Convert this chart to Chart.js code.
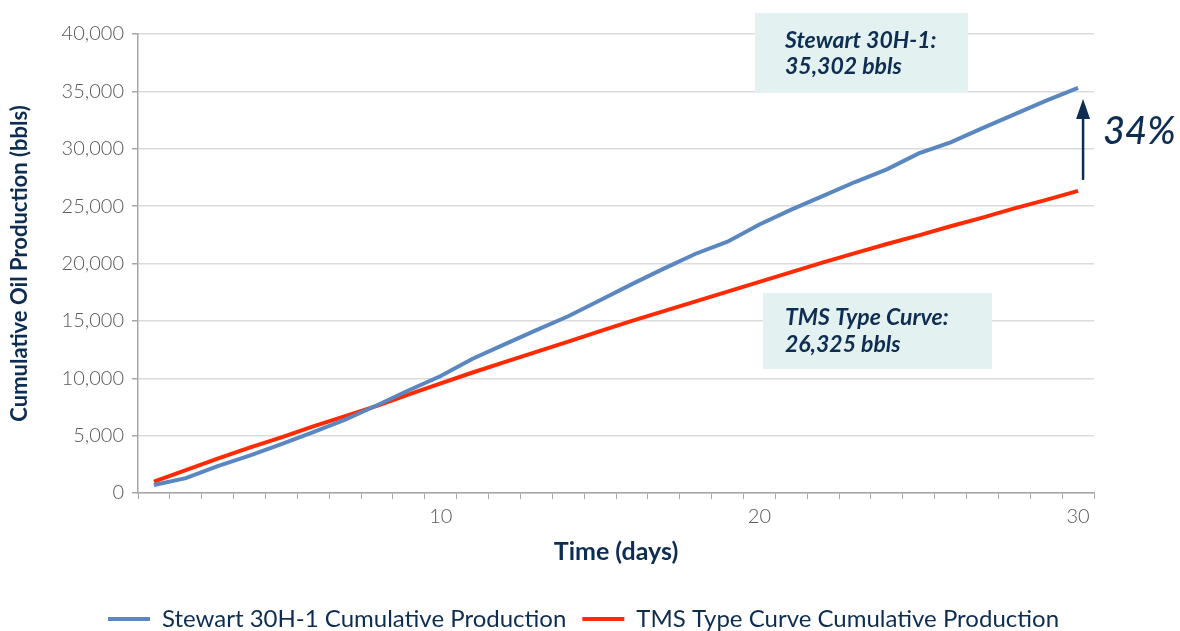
<!DOCTYPE html>
<html lang="en">
<head>
    <meta charset="UTF-8">
    <title>Cumulative Oil Production</title>
    <script src="https://cdn.jsdelivr.net/npm/chart.js"></script>
    <style>
        html, body { margin: 0; padding: 0; background: #fff; }
        .wrap { width: 1180px; height: 631px; }
    </style>
</head>
<body>
    <div class="wrap"><canvas id="production"></canvas></div>

    <script>
        // Days 1..30
        const days = Array.from({ length: 30 }, (_, i) => String(i + 1));
        const dayTicks = ['10', '20', '30'];

        // Cumulative oil production, bbls
        const stewart = [700, 1300, 2350, 3250, 4250, 5300, 6400, 7650, 8950, 10200,
                         11700, 12950, 14200, 15400, 16800, 18200, 19550, 20850, 21900, 23400,
                         24700, 25900, 27100, 28200, 29600, 30550, 31800, 33000, 34200, 35302];
        const tmsCurve = [1000, 2000, 3000, 3950, 4850, 5800, 6700, 7600, 8600, 9550,
                          10500, 11400, 12300, 13200, 14100, 15000, 15850, 16700, 17550, 18400,
                          19250, 20100, 20900, 21700, 22450, 23250, 24000, 24800, 25550, 26325];

        const navy = '#0e2d52';
        const axisGray = '#a6a6a6';

        // callout boxes + growth arrow
        const callouts = {
            id: 'callouts',
            afterDatasetsDraw(chart) {
                const { ctx, scales: { x, y } } = chart;
                ctx.save();

                function box(left, top, w, h, lines, base1, base2) {
                    ctx.fillStyle = '#e3f1f0';
                    ctx.fillRect(left, top, w, h);
                    ctx.fillStyle = navy;
                    ctx.font = 'italic bold 23px Lato';
                    ctx.textBaseline = 'alphabetic';
                    ctx.textAlign = 'left';
                    ctx.fillText(lines[0], 785, top + base1);
                    ctx.fillText(lines[1], 785, top + base2);
                }
                box(755, 13, 213, 79, ['Stewart 30H-1:', '35,302 bbls'], 35, 61);
                box(763, 293, 229, 76, ['TMS Type Curve:', '26,325 bbls'], 32, 59);

                // arrow from type curve end up to Stewart end
                const ax = x.getPixelForValue(29) + 5;
                const yTop = y.getPixelForValue(stewart[29]) + 11;
                const yBot = y.getPixelForValue(tmsCurve[29]) - 11;
                ctx.strokeStyle = navy;
                ctx.lineWidth = 2.5;
                ctx.beginPath();
                ctx.moveTo(ax, yBot);
                ctx.lineTo(ax, yTop + 18);
                ctx.stroke();
                ctx.fillStyle = navy;
                ctx.beginPath();
                ctx.moveTo(ax, yTop);
                ctx.lineTo(ax - 7, yTop + 20);
                ctx.lineTo(ax + 7, yTop + 20);
                ctx.closePath();
                ctx.fill();

                ctx.font = 'italic 500 38px Lato';
                ctx.textAlign = 'left';
                ctx.textBaseline = 'alphabetic';
                ctx.fillText('34%', ax + 20, yTop + 45);
                ctx.restore();
            }
        };

        new Chart(document.getElementById('production'), {
            type: 'line',
            data: {
                labels: days,
                datasets: [{
                    label: 'Stewart 30H-1 Cumulative Production',
                    data: stewart,
                    borderColor: '#5b87c0',
                    backgroundColor: '#5b87c0',
                    borderWidth: 4,
                    pointRadius: 0,
                    tension: 0
                }, {
                    label: 'TMS Type Curve Cumulative Production',
                    data: tmsCurve,
                    borderColor: '#ff2a00',
                    backgroundColor: '#ff2a00',
                    borderWidth: 4,
                    pointRadius: 0,
                    tension: 0
                }]
            },
            options: {
                responsive: true,
                maintainAspectRatio: false,
                animation: false,
                layout: { padding: { left: 0, right: 13, top: 34, bottom: -10 } },
                plugins: {
                    tooltip: { enabled: false },
                    legend: {
                        position: 'bottom',
                        labels: {
                            boxWidth: 42,
                            boxHeight: 4,
                            padding: 16,
                            color: navy,
                            font: { family: 'Lato', size: 24 },
                            // thin line swatches: fill only, no border stroke
                            generateLabels(chart) {
                                return Chart.defaults.plugins.legend.labels.generateLabels(chart)
                                    .map(item => Object.assign(item, { lineWidth: 0 }));
                            }
                        }
                    }
                },
                scales: {
                    x: {
                        offset: true,
                        grid: {
                            offset: true,
                            drawOnChartArea: false,
                            drawTicks: true,
                            tickLength: 6,
                            tickColor: axisGray
                        },
                        border: { color: axisGray, width: 1.5 },
                        ticks: {
                            autoSkip: false,
                            maxRotation: 0,
                            color: '#595959',
                            font: { family: 'Lato', size: 20, weight: 300 },
                            padding: 6,
                            callback(value) {
                                const lbl = this.getLabelForValue(value);
                                return dayTicks.includes(lbl) ? lbl : '';
                            }
                        },
                        title: {
                            display: true,
                            text: 'Time (days)',
                            color: navy,
                            font: { family: 'Lato', size: 25, weight: 'bold' },
                            padding: { top: 2, bottom: 24 }
                        }
                    },
                    y: {
                        min: 0,
                        max: 40000,
                        ticks: {
                            stepSize: 5000,
                            color: '#595959',
                            font: { family: 'Lato', size: 20, weight: 300 },
                            padding: 8,
                            callback: v => v.toLocaleString('en-US')
                        },
                        grid: {
                            color: '#dcdcdc',
                            lineWidth: 1.5,
                            tickLength: 6,
                            tickColor: axisGray
                        },
                        border: { color: axisGray, width: 1.5 },
                        title: {
                            display: true,
                            text: 'Cumulative Oil Production (bbls)',
                            color: navy,
                            font: { family: 'Lato', size: 22, weight: 'bold' },
                            padding: { top: 7, bottom: 8 }
                        },
                        afterFit(scale) { scale.width = 138; }
                    },
                    // empty right-hand axis, only reserves the margin right of the plot
                    spacer: {
                        position: 'right',
                        display: true,
                        grid: { display: false },
                        border: { display: false },
                        ticks: { display: false },
                        afterFit(scale) { scale.width = 73; }
                    }
                }
            },
            plugins: [callouts]
        });
    </script>
</body>
</html>
